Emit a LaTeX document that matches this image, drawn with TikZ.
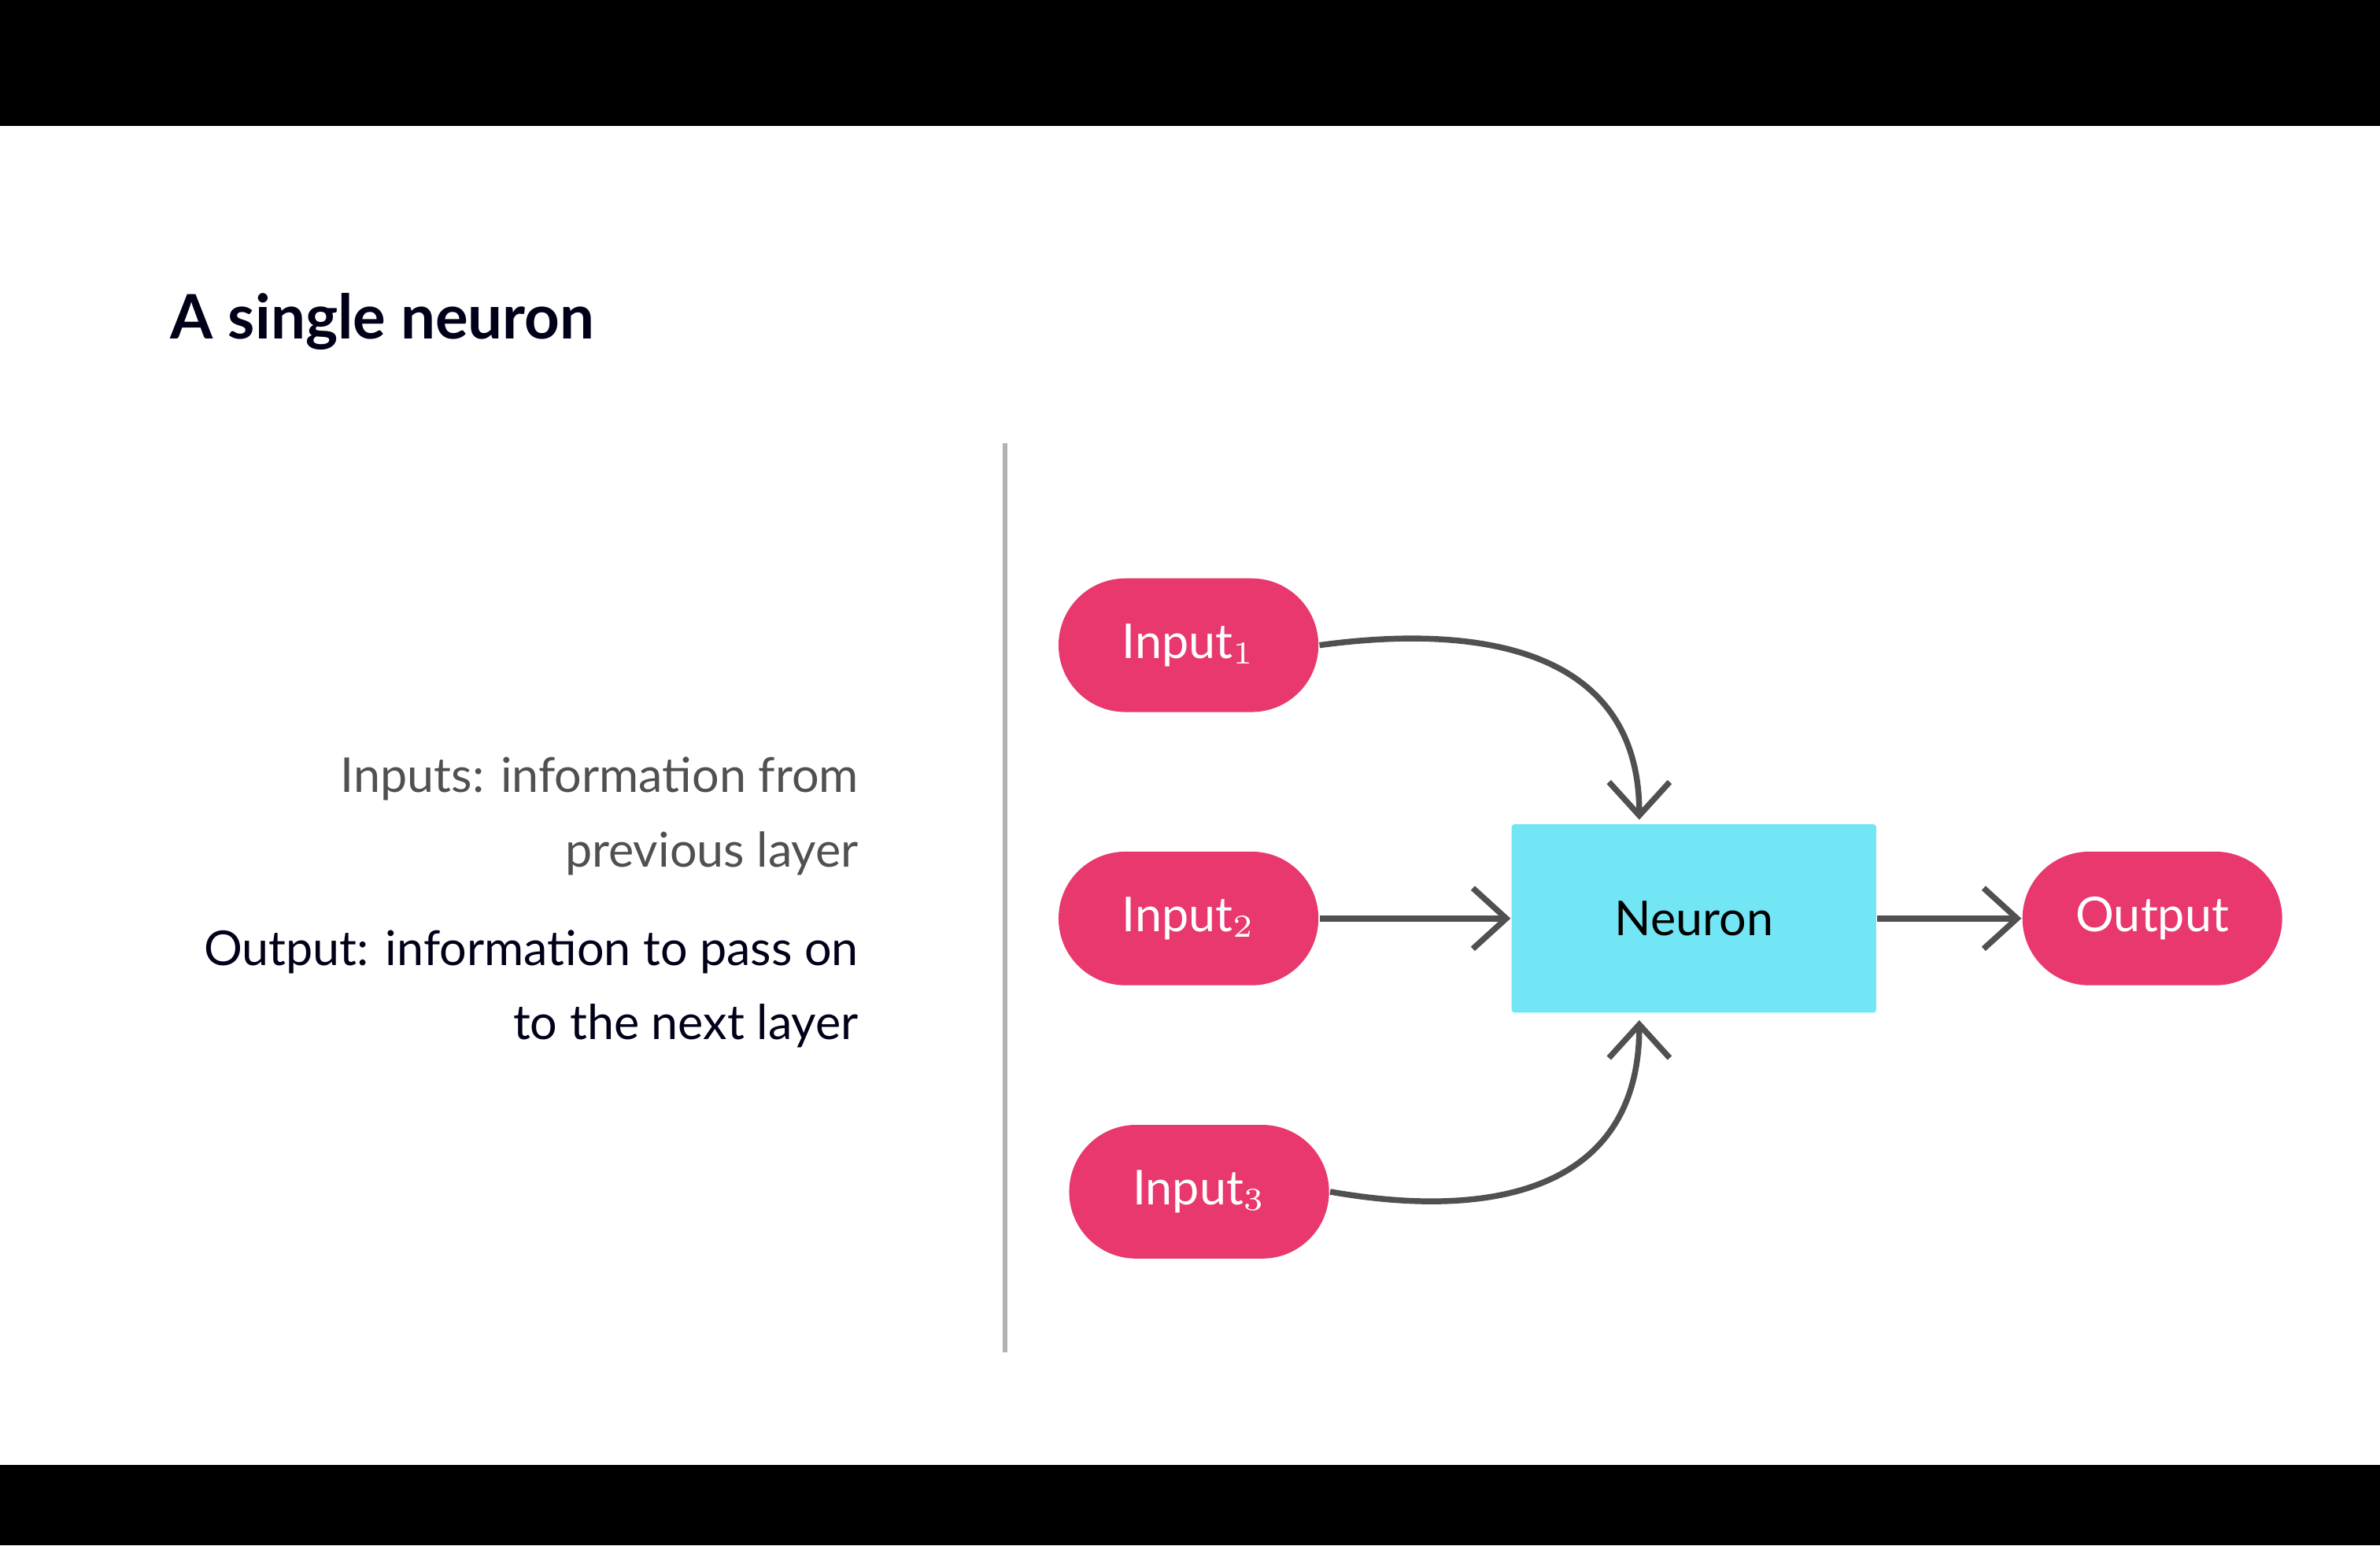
\documentclass[tikz,border=0pt]{standalone}
\usepackage{fontspec}
\setmainfont{Lato}
\usetikzlibrary{arrows.meta, positioning}
\definecolor{pinkish}{HTML}{E8386E}
\definecolor{cyanish}{HTML}{72E6F5}
\definecolor{linegray}{HTML}{505050}
\begin{document}
\begin{tikzpicture}[
	x=0.01cm, y=-0.01cm,
	pill/.style = {rounded rectangle, fill=pinkish, text=white, minimum width=171\pgflinewidth, font=\fontsize{9}{11}\selectfont},
	conn/.style = {draw=linegray, line width=1.1pt, -{Straight Barb[length=2.2mm, width=4mm, line width=1.1pt]}},
	txt/.style  = {anchor=east, font=\fontsize{9}{11}\selectfont}
     ]
	\useasboundingbox (0,0) rectangle (1568,1018);
	\fill[black] (0,0) rectangle (1568,83);
	\fill[black] (0,965) rectangle (1568,1018);
%
	\node[anchor=west, font=\fontsize{11.5}{13}\selectfont\bfseries, text=black!90!blue] (title) at (100,212) {A single neuron};
%
	\node[txt, text=linegray] (t1) at (578,513) {Inputs: information from};
	\node[txt, text=linegray] (t2) at (578,562) {previous layer};
	\node[txt, text=black!90!blue] (t3) at (578,627) {Output: information to pass on};
	\node[txt, text=black!90!blue] (t4) at (578,676) {to the next layer};
%
	\draw[black!30, line width=0.9pt] (662,292) -- (662,891);
%
	\foreach \n/\x/\y/\i in {in1/783/425/1, in2/783/605/2, in3/790/785/3}
		\node[rounded corners=44\pgflinewidth, fill=pinkish, text=white, minimum width=4.86cm/2.84, minimum height=0.88cm, font=\fontsize{9}{11}\selectfont, rounded corners=0.44cm] (\n) at (\x,\y) {Input$_{\i}$};
	\node[fill=pinkish, text=white, minimum width=1.71cm, minimum height=0.88cm, rounded corners=0.44cm, font=\fontsize{9}{11}\selectfont] (out) at (1418,605) {Output};
	\node[fill=cyanish, minimum width=2.4cm, minimum height=1.24cm, rounded corners=0.5pt, font=\fontsize{9}{11}\selectfont] (neuron) at (1116,605) {Neuron};
%
	\coordinate (top) at (1080,540);
	\coordinate (bot) at (1080,672);
	\draw[conn] (in1.east) .. controls (980,410) and (1080,430) .. (top);
	\draw[conn] (in3.east) .. controls (990,805) and (1080,780) .. (bot);
	\draw[conn] (in2.east) -- (neuron.west);
	\draw[conn] (neuron.east) -- (out.west);
\end{tikzpicture}
\end{document}
